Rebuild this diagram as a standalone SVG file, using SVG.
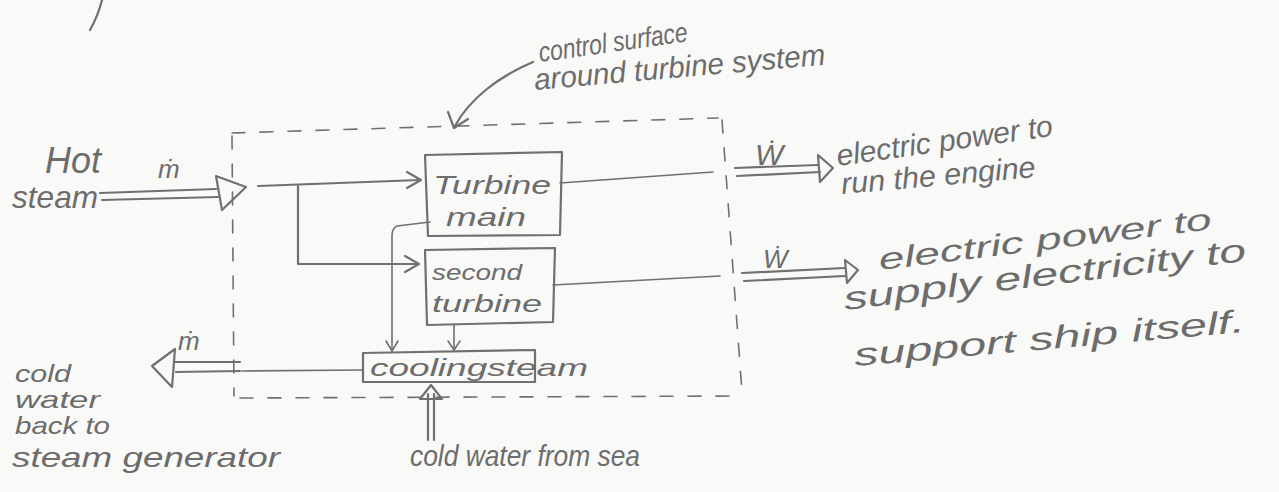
<svg xmlns="http://www.w3.org/2000/svg" width="1279" height="492" viewBox="0 0 1279 492">
  <style>
    .pen{fill:none;stroke:#707070;stroke-width:2.2;stroke-linecap:round;stroke-linejoin:round}
    .thin{stroke-width:1.6}
    .dash{stroke-dasharray:13 15}
    .hand{font-family:"Liberation Sans","DejaVu Sans",sans-serif;font-style:italic;fill:#6c6c6c}
    .head{fill:none;stroke:#707070;stroke-width:2.2;stroke-linejoin:round}
  </style>
  <rect width="1279" height="492" fill="#f9f9f7"/>

  <!-- pencil stroke cut off at the top edge -->
  <path class="pen" d="M102,0 Q98,16 90,30"/>

  <!-- control surface (dashed boundary) -->
  <g id="control-surface">
    <path class="pen thin dash" d="M232,133 L718,118"/>
    <path class="pen thin dash" d="M722,120 L742,392"/>
    <path class="pen thin dash" d="M240,398 L740,396"/>
    <path class="pen thin dash" d="M232,136 L234,396"/>
    <text class="hand" font-size="28" x="540" y="62" textLength="150" lengthAdjust="spacingAndGlyphs" transform="rotate(-8 540 62)">control surface</text>
    <text class="hand" font-size="30" x="535" y="90" textLength="292" lengthAdjust="spacingAndGlyphs" transform="rotate(-5 535 90)">around turbine system</text>
  </g>

  <!-- inlet -->
  <g id="inlet">
    <text class="hand" font-size="36" x="45" y="173" textLength="56" lengthAdjust="spacingAndGlyphs">Hot</text>
    <text class="hand" font-size="32" x="12" y="208" textLength="86" lengthAdjust="spacingAndGlyphs">steam</text>
    <text class="hand" font-size="26" x="158" y="178">ṁ</text>
  </g>

  <!-- turbines -->
  <g id="turbine-main">
    <path class="pen" d="M425,155 L562,152 L560,235 L428,236 Z"/>
    <text class="hand" font-size="26" x="433" y="194" textLength="118" lengthAdjust="spacingAndGlyphs">Turbine</text>
    <text class="hand" font-size="26" x="446" y="226" textLength="80" lengthAdjust="spacingAndGlyphs">main</text>
  </g>
  <g id="turbine-second">
    <path class="pen" d="M425,250 L555,248 L553,322 L427,325 Z"/>
    <text class="hand" font-size="22" x="432" y="280" textLength="90" lengthAdjust="spacingAndGlyphs">second</text>
    <text class="hand" font-size="24" x="432" y="312" textLength="110" lengthAdjust="spacingAndGlyphs">turbine</text>
  </g>
  <g id="cooling">
    <path class="pen" d="M363,353 L535,350 L535,382 L363,382 Z"/>
    <text class="hand" font-size="24" x="370" y="376" textLength="218" lengthAdjust="spacingAndGlyphs">coolingsteam</text>
  </g>

  <!-- outputs and outlets -->
  <g id="work-main">
    <text class="hand" font-size="30" x="755" y="165">Ẇ</text>
    <text class="hand" font-size="30" x="838" y="166" textLength="218" lengthAdjust="spacingAndGlyphs" transform="rotate(-8 838 166)">electric power to</text>
    <text class="hand" font-size="30" x="842" y="194" textLength="195" lengthAdjust="spacingAndGlyphs" transform="rotate(-5 842 194)">run the engine</text>
  </g>
  <g id="work-second">
    <text class="hand" font-size="26" x="763" y="268">Ẇ</text>
    <text class="hand" font-size="30" x="880" y="270" textLength="335" lengthAdjust="spacingAndGlyphs" transform="rotate(-7 880 270)">electric power to</text>
    <text class="hand" font-size="32" x="845" y="310" textLength="405" lengthAdjust="spacingAndGlyphs" transform="rotate(-7 845 310)">supply electricity to</text>
    <text class="hand" font-size="32" x="855" y="366" textLength="392" lengthAdjust="spacingAndGlyphs" transform="rotate(-5 855 366)">support ship itself.</text>
  </g>
  <g id="outlet">
    <text class="hand" font-size="26" x="178" y="350">ṁ</text>
    <text class="hand" font-size="24" x="15" y="382" textLength="56" lengthAdjust="spacingAndGlyphs">cold</text>
    <text class="hand" font-size="24" x="15" y="408" textLength="85" lengthAdjust="spacingAndGlyphs">water</text>
    <text class="hand" font-size="24" x="15" y="434" textLength="95" lengthAdjust="spacingAndGlyphs">back to</text>
    <text class="hand" font-size="28" x="12" y="467" textLength="268" lengthAdjust="spacingAndGlyphs">steam generator</text>
  </g>
  <g id="sea-inlet">
    <text class="hand" font-size="30" x="410" y="466" textLength="230" lengthAdjust="spacingAndGlyphs">cold water from sea</text>
  </g>

  <!-- connectors -->
  <g id="connectors">
    <!-- label pointer -->
    <path class="pen" d="M533,62 C500,76 470,98 455,126"/>
    <path class="pen" d="M448,112 L454,128 L468,119"/>
    <!-- hot steam in -->
    <path class="pen" d="M100,193 L216,189 M102,200 L218,197"/>
    <path class="head" d="M216,176 L246,187 L222,210 Z"/>
    <!-- feed to turbines -->
    <path class="pen" d="M258,186 L420,180"/>
    <path class="pen" d="M407,172 L421,180 L407,188"/>
    <path class="pen" d="M298,186 L298,264 L418,264"/>
    <path class="pen" d="M405,256 L419,264 L405,272"/>
    <!-- shafts -->
    <path class="pen thin" d="M560,183 L713,172"/>
    <path class="pen thin" d="M553,285 L720,276"/>
    <!-- work out -->
    <path class="pen" d="M735,168 L818,165 M737,176 L820,172"/>
    <path class="head" d="M818,155 L833,168 L820,182 Z"/>
    <path class="pen" d="M742,273 L845,268 M744,281 L845,276"/>
    <path class="head" d="M845,260 L858,270 L847,283 Z"/>
    <!-- exhaust to cooling -->
    <path class="pen thin" d="M430,222 L397,226 Q392,228 392,236 L392,350"/>
    <path class="pen thin" d="M386,341 L392,351 L398,341"/>
    <path class="pen thin" d="M454,325 L454,350"/>
    <path class="pen thin" d="M448,341 L454,350 L460,341"/>
    <!-- cold water out -->
    <path class="pen thin" d="M363,370 L242,371"/>
    <path class="pen" d="M240,362 L174,362 M240,371 L176,372"/>
    <path class="head" d="M175,349 L152,366 L172,387 Z"/>
    <!-- sea water in -->
    <path class="pen" d="M428,440 L428,394 M434,440 L434,394"/>
    <path class="head" d="M420,399 L431,385 L442,399 Z"/>
  </g>
</svg>
